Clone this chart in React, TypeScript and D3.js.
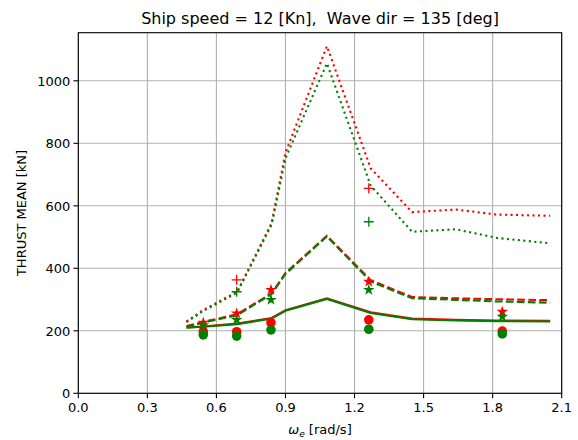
import React from "react";
import * as d3 from "d3";

const omega = [0.47, 0.54, 0.69, 0.84, 0.9, 1.08, 1.27, 1.45, 1.64, 1.82, 2.05];
const redDotted = [230, 265, 325, 545, 770, 1111, 720, 580, 588, 572, 568];
const greenDotted = [228, 262, 322, 540, 752, 1056, 665, 517, 525, 497, 480];
const redDashed = [215, 228, 253, 320, 385, 504, 362, 308, 304, 301, 298];
const greenDashed = [213, 226, 250, 318, 382, 502, 358, 304, 299, 294, 290];
const redSolid = [211, 214, 223, 241, 266, 304, 259, 239, 235, 233, 232];
const greenSolid = [210, 213, 221, 239, 264, 302, 257, 237, 233, 231, 230];

const markerX = [0.543, 0.688, 0.837, 1.262, 1.842];
const redCircle = [197, 197, 226, 235, 199];
const greenCircle = [187, 183, 203, 205, 190];
const redStar = [226, 256, 331, 357, 261];
const greenStar = [218, 235, 299, 331, 245];
const plusX = [0.688, 1.262];
const redPlus = [363, 656];
const greenPlus = [325, 549];

const xTicks = [0, 0.3, 0.6, 0.9, 1.2, 1.5, 1.8, 2.1];
const yTicks = [0, 200, 400, 600, 800, 1000];

const W = 578;
const H = 440;
const L = 78.3;
const R = 561.7;
const T = 32.7;
const B = 393.3;
const RED = "#ff0000";
const GREEN = "#008000";
const FONT = "DejaVu Sans, sans-serif";

export default function App() {
  const x = d3.scaleLinear().domain([0, 2.1]).range([L, R]);
  const y = d3.scaleLinear().domain([0, 1154]).range([B, T]);
  const line = (ys: number[]) =>
    d3.line<number>().x((_, i) => x(omega[i])).y((v) => y(v))(ys) || "";
  const starPath = d3.symbol().type(d3.symbolStar).size(42)() || "";

  const lineStyles = [
    { data: redDotted, color: RED, dash: "2.1,3.4" },
    { data: redDashed, color: RED, dash: "7.7,3.3" },
    { data: redSolid, color: RED, dash: undefined },
    { data: greenDotted, color: GREEN, dash: "2.1,3.4" },
    { data: greenDashed, color: GREEN, dash: "7.7,3.3" },
    { data: greenSolid, color: GREEN, dash: undefined },
  ];

  const plus = (px: number, py: number, color: string, key: string) => (
    <g key={key} stroke={color} strokeWidth={1.3}>
      <line x1={px - 5} x2={px + 5} y1={py} y2={py} />
      <line x1={px} x2={px} y1={py - 5} y2={py + 5} />
    </g>
  );

  return (
    <div style={{ position: "fixed", left: 0, top: 0 }}>
      <svg width={W} height={H} style={{ display: "block", background: "#fff" }}>
        <defs>
          <clipPath id="plotclip">
            <rect x={L} y={T} width={R - L} height={B - T} />
          </clipPath>
        </defs>
        {xTicks.map((t) => (
          <line key={"gx" + t} x1={x(t)} x2={x(t)} y1={T} y2={B} stroke="#b0b0b0" strokeWidth={1.1} />
        ))}
        {yTicks.map((t) => (
          <line key={"gy" + t} x1={L} x2={R} y1={y(t)} y2={y(t)} stroke="#b0b0b0" strokeWidth={1.1} />
        ))}
        <g clipPath="url(#plotclip)">
          {lineStyles.map((s, i) => (
            <path
              key={"l" + i}
              d={line(s.data)}
              fill="none"
              stroke={s.color}
              strokeWidth={2.1}
              strokeDasharray={s.dash}
            />
          ))}
          {markerX.map((mx, i) => (
            <circle key={"rc" + i} cx={x(mx)} cy={y(redCircle[i])} r={4.8} fill={RED} />
          ))}
          {markerX.map((mx, i) => (
            <path key={"rs" + i} d={starPath} transform={`translate(${x(mx)},${y(redStar[i])})`} fill={RED} />
          ))}
          {plusX.map((mx, i) => plus(x(mx), y(redPlus[i]), RED, "rp" + i))}
          {markerX.map((mx, i) => (
            <circle key={"gc" + i} cx={x(mx)} cy={y(greenCircle[i])} r={4.8} fill={GREEN} />
          ))}
          {markerX.map((mx, i) => (
            <path key={"gs" + i} d={starPath} transform={`translate(${x(mx)},${y(greenStar[i])})`} fill={GREEN} />
          ))}
          {plusX.map((mx, i) => plus(x(mx), y(greenPlus[i]), GREEN, "gp" + i))}
        </g>
        <rect x={L} y={T} width={R - L} height={B - T} fill="none" stroke="#000" strokeWidth={1.1} />
        {xTicks.map((t) => (
          <g key={"tx" + t}>
            <line x1={x(t)} x2={x(t)} y1={B} y2={B + 4.9} stroke="#000" strokeWidth={1.1} />
            <text x={x(t)} y={B + 19} textAnchor="middle" fontFamily={FONT} fontSize={13} fill="#000">
              {t.toFixed(1)}
            </text>
          </g>
        ))}
        {yTicks.map((t) => (
          <g key={"ty" + t}>
            <line x1={L - 4.9} x2={L} y1={y(t)} y2={y(t)} stroke="#000" strokeWidth={1.1} />
            <text x={L - 8} y={y(t) + 4.7} textAnchor="end" fontFamily={FONT} fontSize={13} fill="#000">
              {t}
            </text>
          </g>
        ))}
        <text
          x={(L + R) / 2}
          y={24}
          textAnchor="middle"
          fontFamily={FONT}
          fontSize={16}
          fill="#000"
          style={{ whiteSpace: "pre" }}
        >
          {"Ship speed = 12 [Kn],  Wave dir = 135 [deg]"}
        </text>
        <text x={(L + R) / 2} y={434} textAnchor="middle" fontFamily={FONT} fontSize={13} fill="#000" style={{ whiteSpace: "pre" }}>
          <tspan fontStyle="italic">ω</tspan>
          <tspan fontStyle="italic" fontSize={9} dy={3}>e</tspan>
          <tspan dy={-3}>{" [rad/s]"}</tspan>
        </text>
        <text
          transform={`translate(26,${(T + B) / 2}) rotate(-90)`}
          textAnchor="middle"
          fontFamily={FONT}
          fontSize={13}
          fill="#000"
        >
          THRUST MEAN [kN]
        </text>
      </svg>
    </div>
  );
}
